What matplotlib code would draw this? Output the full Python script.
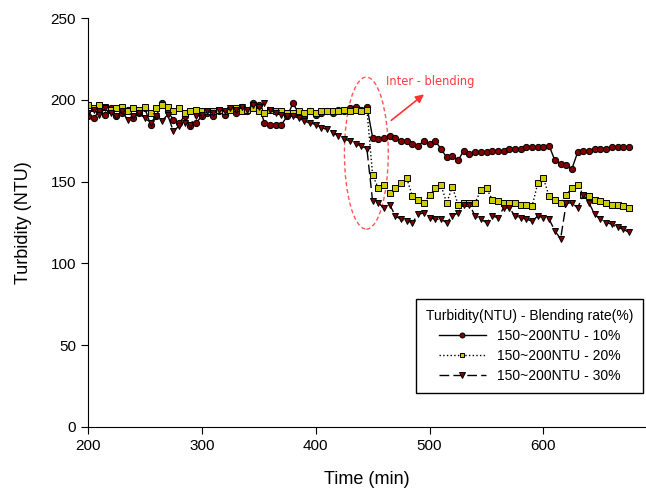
import matplotlib.pyplot as plt
from matplotlib.patches import Ellipse

plt.rcParams["font.family"] = ["Liberation Sans", "DejaVu Sans"]

# time axis (min), one reading every 5 min
time = [200, 205, 210, 215, 220, 225, 230, 235, 240, 245,
        250, 255, 260, 265, 270, 275, 280, 285, 290, 295,
        300, 305, 310, 315, 320, 325, 330, 335, 340, 345,
        350, 355, 360, 365, 370, 375, 380, 385, 390, 395,
        400, 405, 410, 415, 420, 425, 430, 435, 440, 445,
        450, 455, 460, 465, 470, 475, 480, 485, 490, 495,
        500, 505, 510, 515, 520, 525, 530, 535, 540, 545,
        550, 555, 560, 565, 570, 575, 580, 585, 590, 595,
        600, 605, 610, 615, 620, 625, 630, 635, 640, 645,
        650, 655, 660, 665, 670, 675]

# 150~200NTU - 10%
rate_10 = [190, 189, 193, 191, 195, 190, 192, 194, 189, 192,
           195, 185, 190, 198, 193, 188, 186, 190, 184, 186,
           190, 192, 190, 193, 191, 194, 192, 196, 193, 198,
           197, 186, 185, 185, 185, 190, 198, 192, 190, 193,
           191, 192, 193, 192, 194, 193, 195, 196, 194, 196,
           177, 176, 177, 178, 177, 175, 175, 173, 172, 175,
           173, 175, 170, 165, 166, 163, 169, 167, 168, 168,
           168, 169, 169, 169, 170, 170, 170, 171, 171, 171,
           171, 172, 163, 161, 160, 158, 168, 169, 169, 170,
           170, 170, 171, 171, 171, 171]

# 150~200NTU - 20%
rate_20 = [197, 195, 197, 196, 194, 195, 196, 193, 195, 194,
           196, 192, 195, 197, 196, 193, 195, 192, 193, 194,
           193, 193, 193, 194, 193, 194, 195, 193, 194, 195,
           193, 192, 194, 193, 193, 192, 192, 193, 192, 193,
           192, 193, 193, 193, 193, 194, 193, 194, 193, 194,
           154, 146, 148, 143, 146, 149, 152, 141, 139, 137,
           142, 146, 148, 137, 147, 136, 137, 137, 137, 145,
           146, 139, 138, 137, 137, 137, 136, 136, 135, 149,
           152, 141, 139, 137, 142, 146, 148, 142, 141, 139,
           138, 137, 136, 136, 135, 134]

# 150~200NTU - 30%
rate_30 = [192, 194, 191, 195, 192, 190, 193, 188, 190, 192,
           189, 186, 190, 187, 191, 181, 184, 186, 185, 190,
           191, 193, 192, 194, 193, 195, 194, 196, 194, 197,
           196, 198, 194, 192, 191, 190, 190, 189, 187, 186,
           185, 183, 182, 180, 178, 176, 175, 173, 172, 170,
           138, 137, 134, 136, 129, 127, 126, 125, 130, 131,
           128, 127, 127, 125, 129, 131, 136, 136, 129, 127,
           125, 129, 128, 134, 134, 129, 128, 127, 126, 129,
           128, 127, 120, 115, 137, 137, 134, 142, 137, 130,
           127, 125, 124, 122, 121, 119]

fig = plt.figure(figsize=(6.46, 4.93), dpi=100)
ax = fig.add_axes([0.136, 0.134, 0.864, 0.829])

ax.plot(time, rate_10, color="black", linestyle="-", linewidth=1.0,
        marker="o", markersize=4.5, markerfacecolor="#800000",
        markeredgecolor="black", markeredgewidth=0.7,
        label="150~200NTU - 10%")
ax.plot(time, rate_20, color="black", linestyle=":", linewidth=1.0,
        marker="s", markersize=3.8, markerfacecolor="#cccc00",
        markeredgecolor="black", markeredgewidth=0.7,
        label="150~200NTU - 20%")
ax.plot(time, rate_30, color="black", linestyle=(0, (7, 3)), linewidth=1.0,
        marker="v", markersize=5, markerfacecolor="#800000",
        markeredgecolor="black", markeredgewidth=0.7,
        label="150~200NTU - 30%")

# inter-blending highlight
ax.add_patch(Ellipse((444.5, 167.5), 38.5, 93, fill=False,
                     edgecolor="#ff5555", linestyle=(0, (3, 2)), linewidth=1.0))
ax.annotate("", xy=(497, 204.5), xytext=(464.5, 186.5),
            arrowprops=dict(arrowstyle="-|>", color="#ff3333", lw=1.2,
                            mutation_scale=12))
ax.text(462, 211, "Inter - blending", color="#ff3b3b", fontsize=8.3,
        family="DejaVu Sans", va="center", ha="left")

ax.set_xlim(200, 690)
ax.set_ylim(0, 250)
ax.set_xticks([200, 300, 400, 500, 600])
ax.set_yticks([0, 50, 100, 150, 200, 250])
ax.spines["top"].set_visible(False)
ax.spines["right"].set_visible(False)
ax.tick_params(direction="out", length=5, labelsize=11)

ax.set_xlabel("Time (min)", fontsize=13, labelpad=13)
ax.set_ylabel("Turbidity (NTU)", fontsize=13, labelpad=13)

leg = ax.legend(loc="lower right", bbox_to_anchor=(0.995, 0.083),
                borderaxespad=0,
                title="Turbidity(NTU) - Blending rate(%)", alignment="center",
                fontsize=10, title_fontsize=10, fancybox=False,
                edgecolor="black", framealpha=1, handlelength=3.4,
                numpoints=1, markerscale=0.8, borderpad=0.7,
                labelspacing=0.45)
leg.get_frame().set_linewidth(1.0)

fig.savefig("out.png", dpi=100)
